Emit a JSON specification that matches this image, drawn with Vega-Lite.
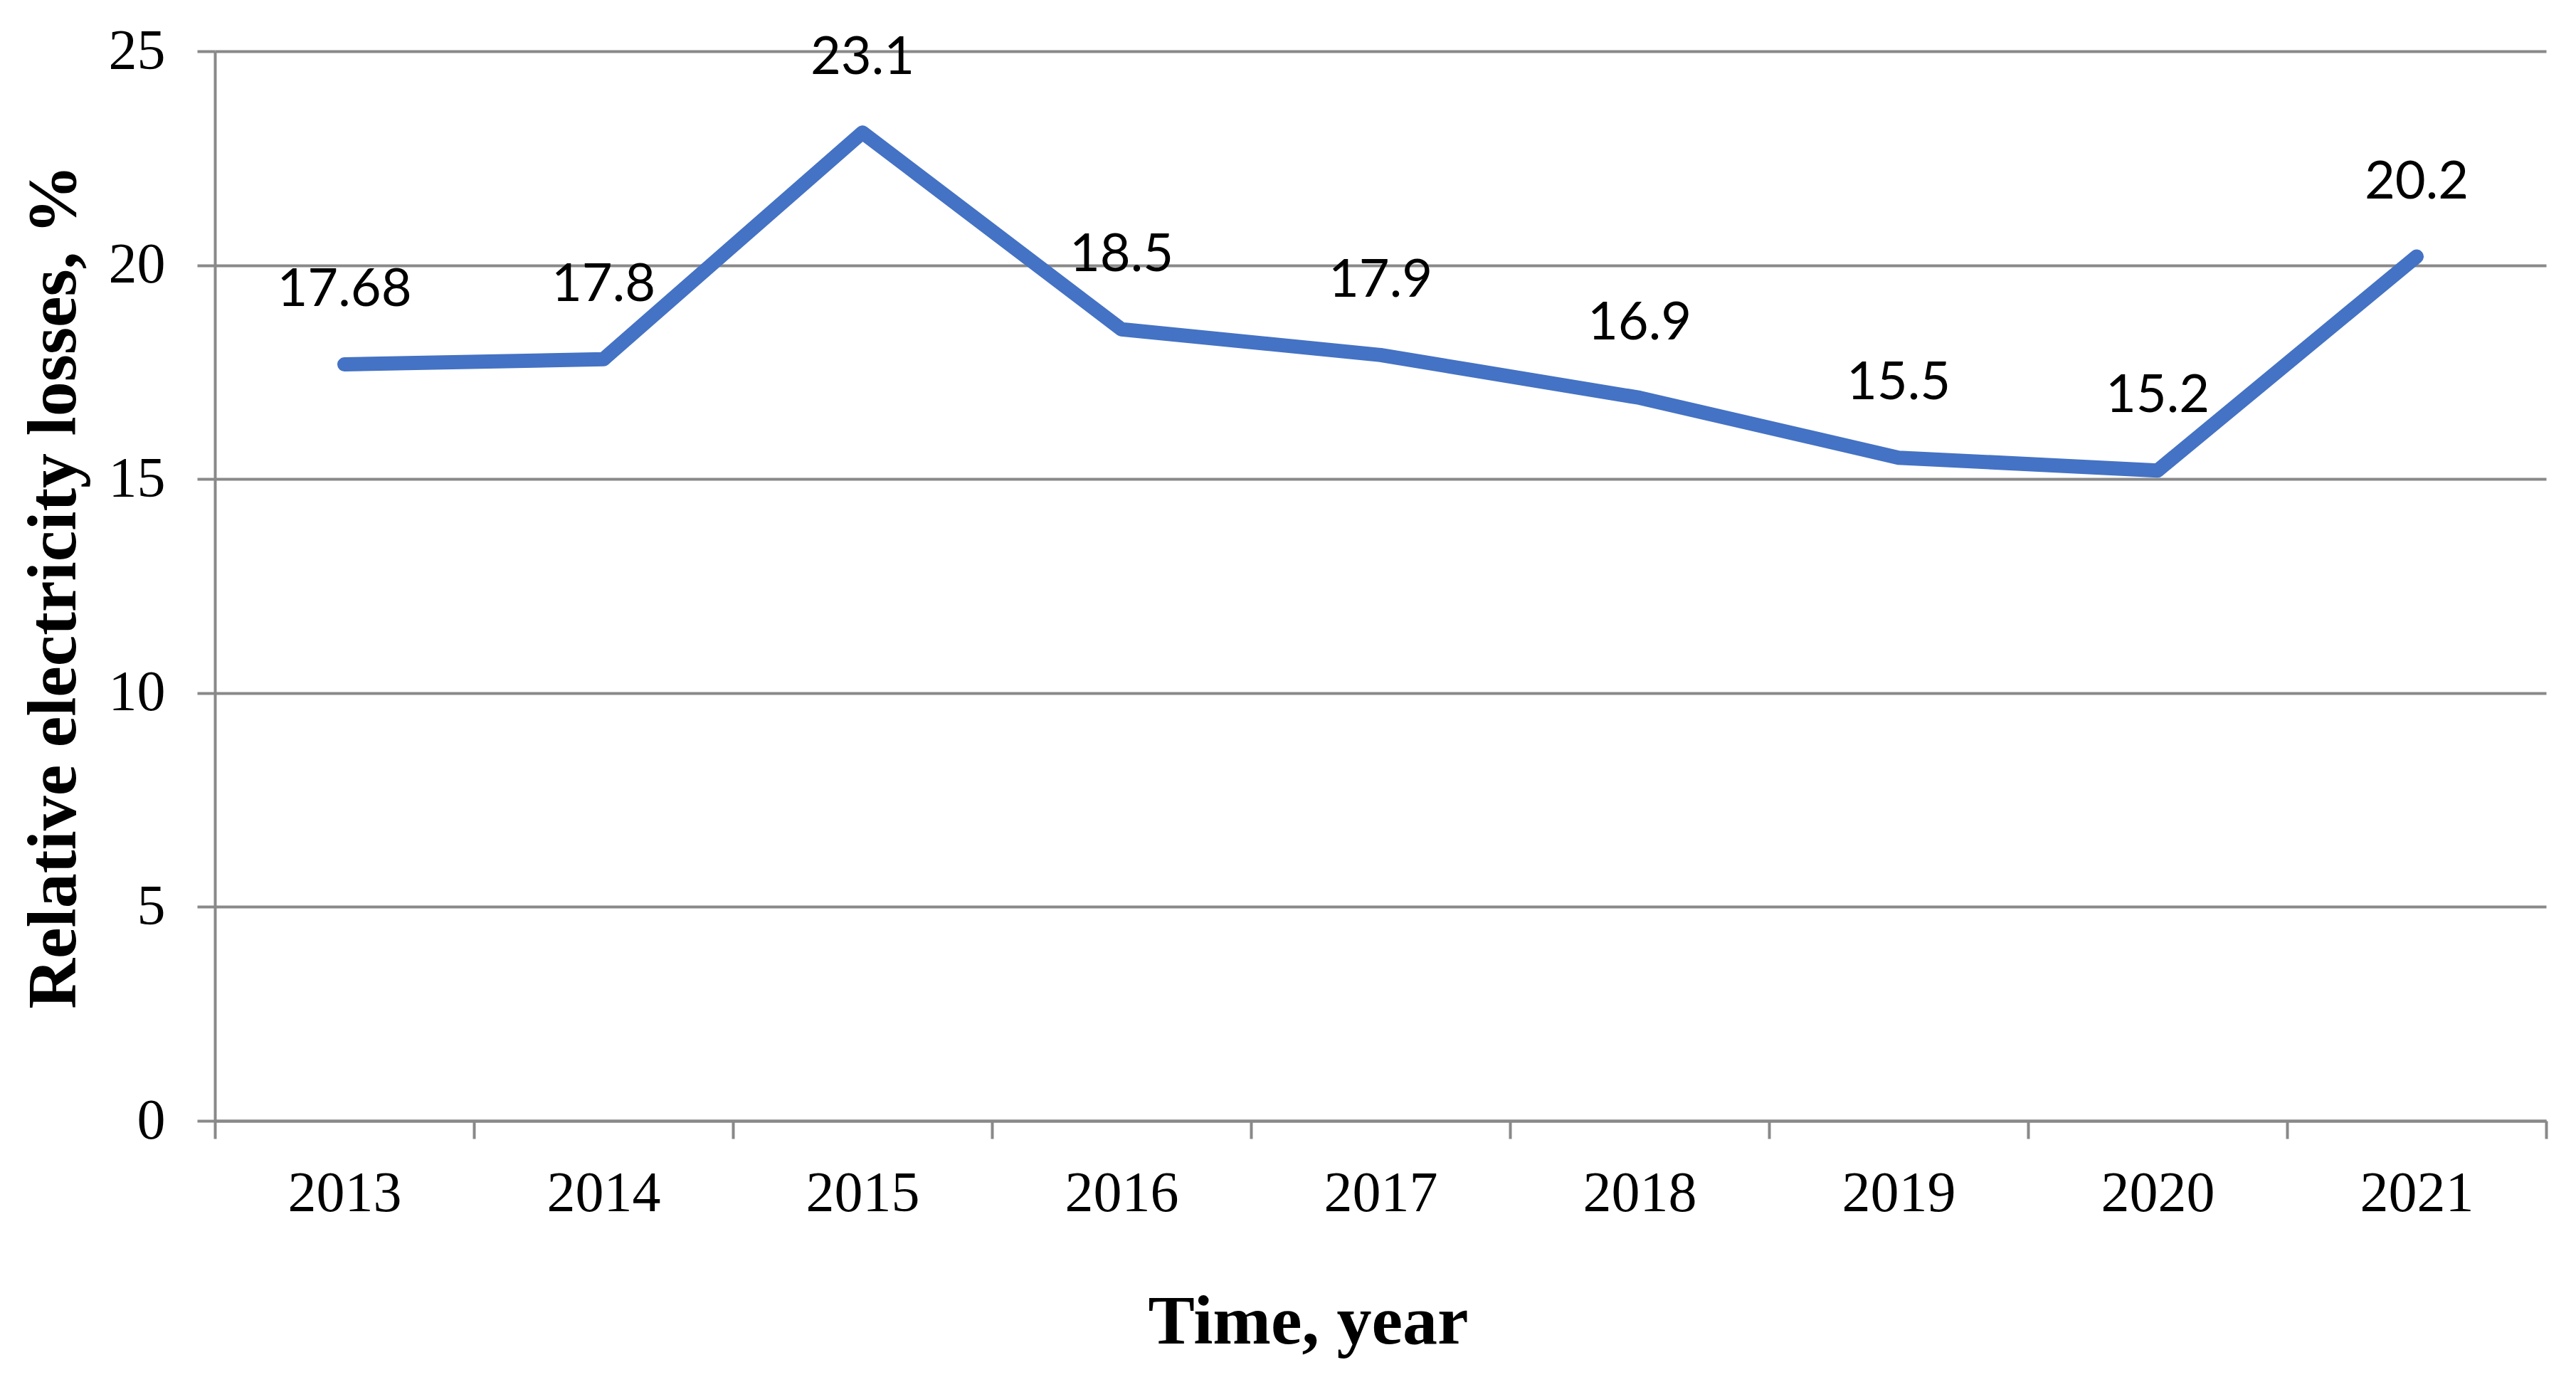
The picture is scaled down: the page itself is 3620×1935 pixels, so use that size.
{
  "$schema": "https://vega.github.io/schema/vega-lite/v6.json",
  "autosize": "none",
  "width": 3276,
  "height": 1503,
  "padding": {"left": 302, "top": 72, "right": 42, "bottom": 360},
  "background": "white",
  "data": {"values": [
    {"year": "2013", "loss": 17.68, "label": "17.68"},
    {"year": "2014", "loss": 17.8, "label": "17.8"},
    {"year": "2015", "loss": 23.1, "label": "23.1"},
    {"year": "2016", "loss": 18.5, "label": "18.5"},
    {"year": "2017", "loss": 17.9, "label": "17.9"},
    {"year": "2018", "loss": 16.9, "label": "16.9"},
    {"year": "2019", "loss": 15.5, "label": "15.5"},
    {"year": "2020", "loss": 15.2, "label": "15.2"},
    {"year": "2021", "loss": 20.2, "label": "20.2"}
  ]},
  "config": {"view": {"stroke": null}},
  "encoding": {
    "x": {
      "field": "year", "type": "ordinal",
      "scale": {"type": "band", "paddingInner": 0, "paddingOuter": 0},
      "axis": {
        "title": "Time, year",
        "titleFont": "Liberation Serif", "titleFontSize": 98, "titleFontWeight": "bold", "titleColor": "black",
        "titleX": 1536, "titleY": 283, "titleBaseline": "middle", "titleAlign": "center",
        "labelFont": "Liberation Serif", "labelFontSize": 80, "labelColor": "black", "labelAngle": 0,
        "labelPadding": 38,
        "tickBand": "extent", "ticks": true, "tickSize": 25, "tickWidth": 4, "tickColor": "#898989",
        "domainColor": "#898989", "domainWidth": 4,
        "grid": false
      }
    },
    "y": {
      "field": "loss", "type": "quantitative",
      "scale": {"domain": [0, 25], "nice": false},
      "axis": {
        "title": "Relative electricity losses, %",
        "titleFont": "Liberation Serif", "titleFontSize": 98, "titleFontWeight": "bold", "titleColor": "black",
        "titleX": -226, "titleY": 752, "titleAngle": -90, "titleBaseline": "middle", "titleAlign": "center",
        "values": [0, 5, 10, 15, 20, 25],
        "labelFont": "Liberation Serif", "labelFontSize": 80, "labelColor": "black",
        "labelPadding": 45,
        "tickSize": 25, "tickWidth": 4, "tickColor": "#898989",
        "domainColor": "#898989", "domainWidth": 4,
        "grid": true, "gridColor": "#898989", "gridWidth": 4
      }
    }
  },
  "layer": [
    {
      "mark": {"type": "line", "color": "#4472C4", "strokeWidth": 20, "strokeCap": "round", "strokeJoin": "round"}
    },
    {
      "mark": {"type": "text", "font": "Lato", "fontSize": 74, "color": "black", "dy": -104, "baseline": "middle", "align": "center"},
      "encoding": {"text": {"field": "label"}}
    }
  ]
}
